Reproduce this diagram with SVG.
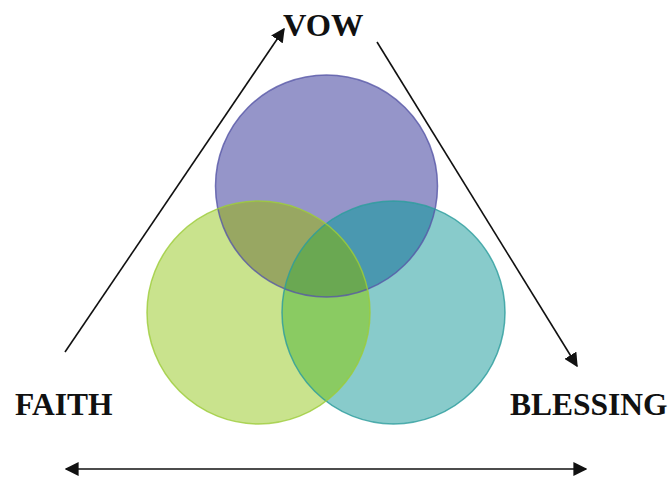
<svg xmlns="http://www.w3.org/2000/svg" width="672" height="479" viewBox="0 0 672 479">
<style>
.lbl{font-family:"Liberation Serif","Times New Roman",serif;font-weight:bold;font-size:31.5px;fill:#111}
.ln{stroke:#111;stroke-width:1.6;fill:none}
.edge{fill:none;stroke-width:1.5}
</style>
<defs>
<marker id="ah2" viewBox="0 0 10 10" refX="9" refY="5" markerWidth="14" markerHeight="14" markerUnits="userSpaceOnUse" orient="auto-start-reverse">
<path d="M0,0 L10,5 L0,10 z" fill="#111"/>
</marker>
<clipPath id="cpV"><circle cx="326.5" cy="186" r="111"/></clipPath>
<clipPath id="cpF"><circle cx="258.5" cy="312.5" r="111.5"/></clipPath>
</defs>
<rect width="672" height="479" fill="#fff"/>
<g id="connectors">
<line class="ln" x1="65" y1="352" x2="284" y2="29" marker-end="url(#ah2)"/>
<line class="ln" x1="377" y1="42" x2="577" y2="366" marker-end="url(#ah2)"/>
<line class="ln" x1="66" y1="469" x2="586" y2="469" marker-start="url(#ah2)" marker-end="url(#ah2)"/>
</g>
<g id="vow">
<circle cx="326.5" cy="186" r="111" fill="#9595c9"/>
<text class="lbl" x="283" y="36" style="font-size:32.5px">VOW</text>
</g>
<g id="faith">
<circle cx="258.5" cy="312.5" r="111.5" fill="#c9e38d"/>
<text class="lbl" x="15" y="415">FAITH</text>
</g>
<g id="blessing">
<circle cx="393.5" cy="312.5" r="111.5" fill="#88cbcb"/>
<text class="lbl" x="510" y="415">BLESSING</text>
</g>
<g id="overlaps">
<g clip-path="url(#cpV)"><circle cx="258.5" cy="312.5" r="111.5" fill="#98a762"/></g>
<g clip-path="url(#cpV)"><circle cx="393.5" cy="312.5" r="111.5" fill="#4a98b0"/></g>
<g clip-path="url(#cpF)"><circle cx="393.5" cy="312.5" r="111.5" fill="#8acb62"/></g>
<g clip-path="url(#cpV)"><g clip-path="url(#cpF)"><circle cx="393.5" cy="312.5" r="111.5" fill="#6aa852"/></g></g>
</g>
<g id="outlines">
<circle class="edge" cx="326.5" cy="186" r="111" stroke="#5656a6" stroke-opacity="0.8"/>
<circle class="edge" cx="393.5" cy="312.5" r="111.5" stroke="#2c9c9c" stroke-opacity="0.8"/>
<circle class="edge" cx="258.5" cy="312.5" r="111.5" stroke="#9ccc3a" stroke-opacity="0.8"/>
</g>
</svg>
